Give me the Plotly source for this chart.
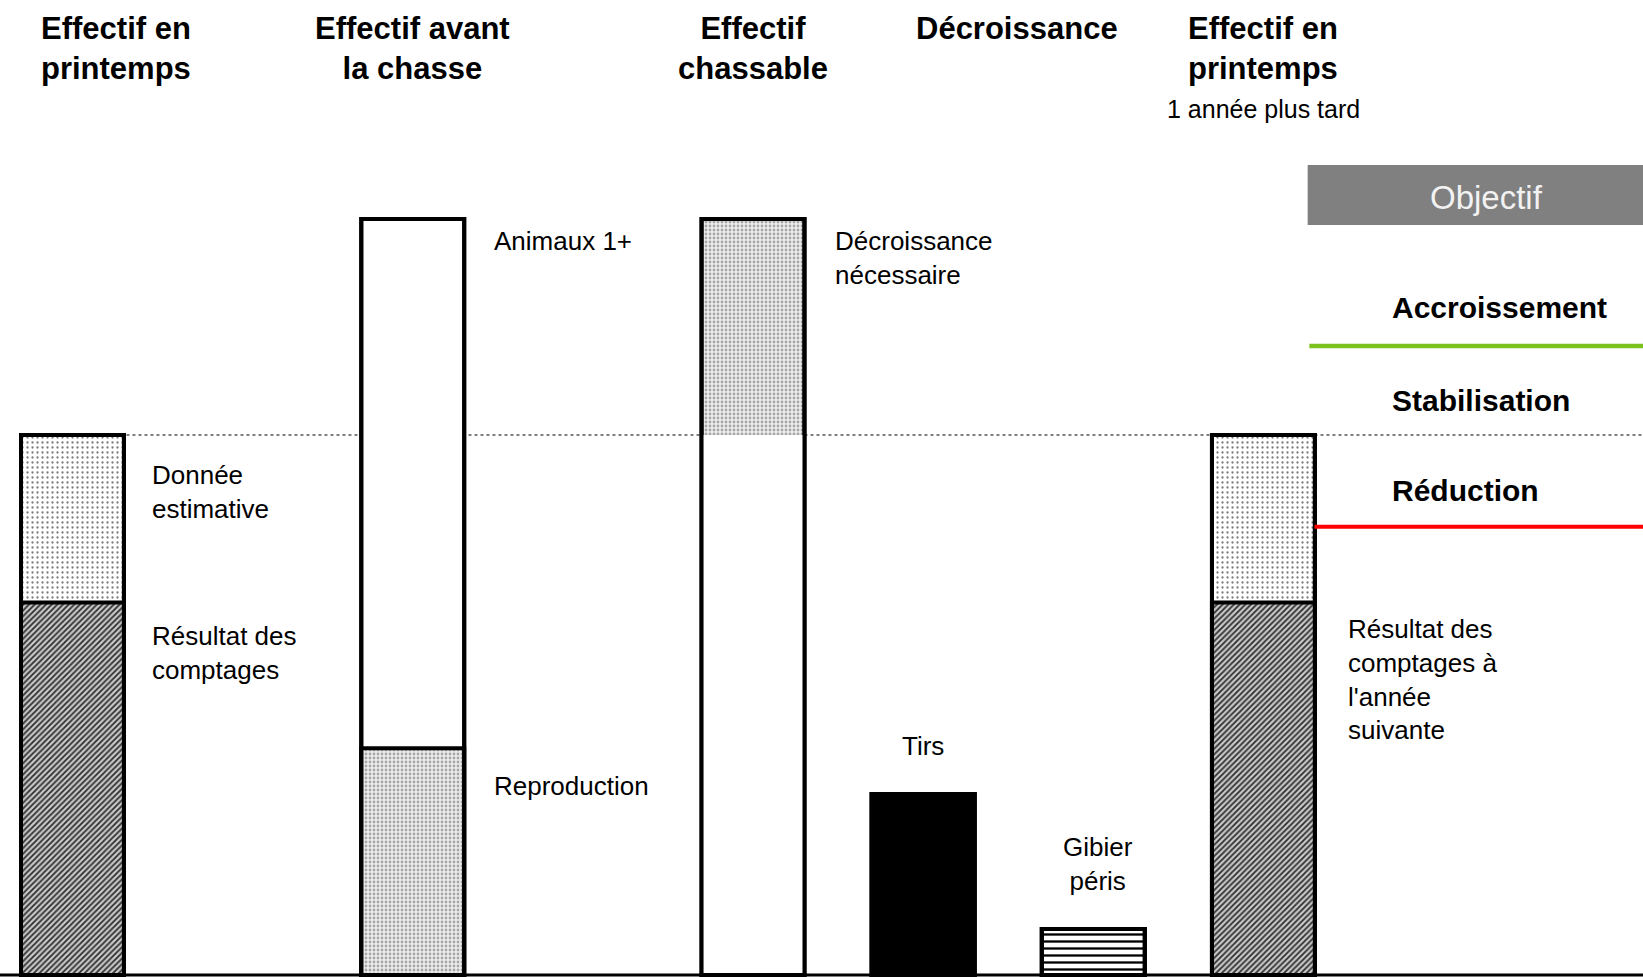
import plotly.graph_objects as go

# bars, left to right
categories = [
    "Effectif en printemps",
    "Effectif avant la chasse",
    "Effectif chassable",
    "Tirs",
    "Gibier péris",
    "Effectif en printemps 1 année plus tard",
]
lower_values = [69, 42, 100, 33.5, 8.5, 69]   # comptages / reproduction / chassable / tirs / péris
upper_values = [31, 98, 40, 0, 0, 31]         # estimation / animaux 1+ / décroissance nécessaire
totals = [a + b for a, b in zip(lower_values, upper_values)]

# objective levels
level_growth = 116.5
level_stable = 100
level_reduction = 83

x_order = [categories[0], "gap1", categories[1], "gap2"] + categories[2:]

FONT = "Liberation Sans, Arial, sans-serif"

# pattern styles: shape, fg, bg, size, solidity
SPARSE = (".", "#7a7a7a", "#ffffff", 5, 0.16)
DENSE = (".", "#a6a6a6", "#ededed", 4, 0.4)
HATCH = ("/", "#2e2e2e", "#c8c8c8", 4, 0.45)
STRIPES = ("-", "#000000", "#ffffff", 7, 0.33)
WHITE = ("", "#000000", "#ffffff", 6, 0.3)
BLACK = ("", "#000000", "#000000", 6, 0.3)

upper_styles = [SPARSE, WHITE, DENSE, BLACK, STRIPES, SPARSE]
lower_styles = [HATCH, DENSE, WHITE, BLACK, STRIPES, HATCH]
lower_outline = [4, 4, 0, 4, 4, 4]


def marker_for(style, line_width):
    shape, fg, bg, size, solidity = style
    m = dict(color=bg, line=dict(color="black", width=line_width))
    if shape:
        m["pattern"] = dict(shape=shape, fgcolor=fg, bgcolor=bg, size=size,
                            solidity=solidity, fillmode="replace")
    return m


BAR_W = 0.605
fig = go.Figure()
for i, cat in enumerate(categories):
    fig.add_trace(go.Bar(x=[cat], y=[totals[i]], width=BAR_W,
                         marker=marker_for(upper_styles[i], 4), hoverinfo="skip"))
    fig.add_trace(go.Bar(x=[cat], y=[lower_values[i]], width=BAR_W,
                         marker=marker_for(lower_styles[i], lower_outline[i]), hoverinfo="skip"))
# outer outlines on top
fig.add_trace(go.Bar(x=categories, y=totals, width=BAR_W,
                     marker=dict(color="rgba(0,0,0,0)", line=dict(color="black", width=4)),
                     hoverinfo="skip"))

X_MAX = 9.231
shapes = [
    dict(type="line", xref="x", yref="y", x0=0, x1=X_MAX, y0=level_stable, y1=level_stable,
         line=dict(color="#808080", width=2, dash="dot"), layer="below"),
    dict(type="line", xref="x", yref="y", x0=7.27, x1=X_MAX, y0=level_growth, y1=level_growth,
         line=dict(color="#7cc21e", width=4.5)),
    dict(type="line", xref="x", yref="y", x0=7.3, x1=X_MAX, y0=level_reduction, y1=level_reduction,
         line=dict(color="#ff0000", width=4)),
    dict(type="rect", xref="x", yref="y", x0=7.26, x1=X_MAX, y0=138.9, y1=150,
         fillcolor="#808080", line=dict(width=0)),
    dict(type="line", xref="paper", yref="y", x0=0, x1=1, y0=0, y1=0,
         line=dict(color="black", width=3)),
]

annotations = []


def note(x, y, text, size=26, bold=False, xanchor="left", align="left",
         yanchor="top", color="black"):
    annotations.append(dict(
        x=x, y=y, xref="x", yref="y", text=f"<b>{text}</b>" if bold else text,
        showarrow=False, xanchor=xanchor, yanchor=yanchor, align=align,
        font=dict(family=FONT, size=size, color=color),
    ))


# column titles
title_top = 178.9
note(0.256, title_top, "Effectif en<br>printemps", 31, True, "center", "center")
note(2, title_top, "Effectif avant<br>la chasse", 31, True, "center", "center")
note(4, title_top, "Effectif<br>chassable", 31, True, "center", "center")
note(5.55, title_top, "Décroissance", 31, True, "center", "center")
note(7, title_top, "Effectif en<br>printemps", 31, True, "center", "center")
note(7, 163.3, "1 année plus tard", 25, False, "center", "center")

# bar labels
note(0.455, totals[0] - 4.2, "Donnée<br>estimative")
note(0.455, lower_values[0] - 3, "Résultat des<br>comptages")
note(2.468, totals[1] - 1, "Animaux 1+")
note(2.468, lower_values[1] - 3.8, "Reproduction")
note(4.47, totals[2] - 1, "Décroissance<br>nécessaire")
note(5, lower_values[3] + 12, "Tirs", xanchor="center", align="center")
note(6.03, lower_values[4] + 18.3, "Gibier<br>péris", xanchor="center", align="center")
note(7.484, lower_values[5] - 1.7, "Résultat des<br>comptages à<br>l'année<br>suivante")

# objective panel
note(8.31, 143.9, "Objectif", 33, False, "center", "center", "middle", "#f2f2f2")
note(7.744, 127.0, "Accroissement", 30, True)
note(7.744, 109.8, "Stabilisation", 30, True)
note(7.744, 93.1, "Réduction", 30, True)

fig.update_layout(
    barmode="overlay",
    showlegend=False,
    width=1643,
    height=977,
    margin=dict(l=0, r=0, t=0, b=0),
    paper_bgcolor="white",
    plot_bgcolor="white",
    xaxis=dict(type="category", categoryorder="array", categoryarray=x_order,
               range=[-0.426, X_MAX], visible=False),
    yaxis=dict(range=[-0.37, 180.56], visible=False),
    shapes=shapes,
    annotations=annotations,
)

# drop the default page margin so the figure sits at the window's corner
fig.write_html(
    "out.html",
    config={"displayModeBar": False},
    post_script="document.body.style.margin='0';",
)
